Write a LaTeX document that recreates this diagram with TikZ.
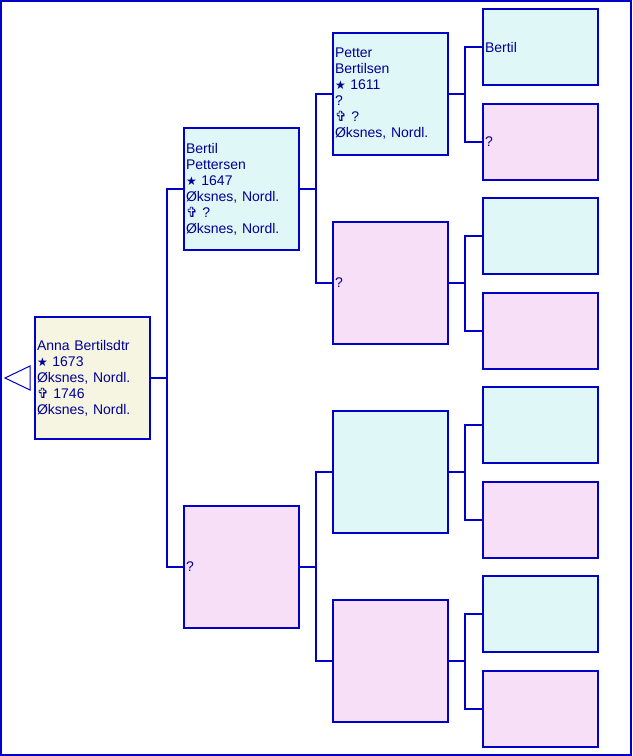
\documentclass[tikz,border=0pt]{standalone}
\usepackage{fontspec}
\setmainfont{Liberation Sans}
\newfontfamily\symfont{DejaVu Sans}
\usepackage{xcolor}
\usetikzlibrary{positioning,calc}
\definecolor{treeblue}{RGB}{0,0,200}
\definecolor{treetext}{RGB}{0,0,150}
\definecolor{malefill}{RGB}{224,247,247}
\definecolor{femfill}{RGB}{247,224,247}
\definecolor{rootfill}{RGB}{245,245,225}
\newcommand{\born}{{\symfont\small ★}}
\newcommand{\died}{{\symfont ✞}}
\tikzset{%
  person/.style={draw=treeblue,line width=1.5pt,align=left,text=treetext,
    minimum width=86.25pt,minimum height=91.5pt,text width=83.25pt,
    inner xsep=1.5pt,inner ysep=0pt,
    font=\fontsize{10.5pt}{12pt}\selectfont},
  link/.style={draw=treeblue,line width=1.5pt}%
}
\begin{document}
\begin{tikzpicture}[
    x=0.75pt,y=-0.75pt,
    male/.style={person,fill=malefill},
    female/.style={person,fill=femfill},
    root/.style={person,fill=rootfill},
    small/.style={minimum height=57pt}
]
\useasboundingbox (0,0) rectangle (632,756);
\draw[treeblue,line width=1.5pt] (1,1) rectangle (631,755);

% Proband
\node[root] (anna) at (92.5,378) {Anna Bertilsdtr\\\born{} 1673\\Øksnes, Nordl.\\\died{} 1746\\Øksnes, Nordl.};
\draw[treeblue,line width=0.75pt] (5,378) -- (30,366) -- (30,390) -- cycle;

% Parents
\node[male]   (far) at (241.5,189) {Bertil\\Pettersen\\\born{} 1647\\Øksnes, Nordl.\\\died{} ?\\Øksnes, Nordl.};
\node[female] (mor) at (241.5,567) {?};

% Grandparents
\node[male]   (ffar) at (390.5,94)  {Petter\\Bertilsen\\\born{} 1611\\?\\\died{} ?\\Øksnes, Nordl.};
\node[female] (fmor) at (390.5,283) {?};
\node[male]   (mfar) at (390.5,472) {};
\node[female] (mmor) at (390.5,661) {};

% Great-grandparents
\node[male,small]   (fff) at (540.5,47)  {Bertil};
\node[female,small] (ffm) at (540.5,142) {?};
\node[male,small]   (fmf) at (540.5,236) {};
\node[female,small] (fmm) at (540.5,331) {};
\node[male,small]   (mff) at (540.5,425) {};
\node[female,small] (mfm) at (540.5,520) {};
\node[male,small]   (mmf) at (540.5,614) {};
\node[female,small] (mmm) at (540.5,709) {};

% Connections
\draw[link] (anna.east) -- ++(16,0) |- (far.west);
\draw[link] (anna.east) -- ++(16,0) |- (mor.west);
\foreach \child/\dad/\mum in {far/ffar/fmor,mor/mfar/mmor,ffar/fff/ffm,fmor/fmf/fmm,mfar/mff/mfm,mmor/mmf/mmm}{
  \draw[link] (\child.east) -- ++(16,0) |- (\dad.west);
  \draw[link] (\child.east) -- ++(16,0) |- (\mum.west);
}

\end{tikzpicture}
\end{document}
